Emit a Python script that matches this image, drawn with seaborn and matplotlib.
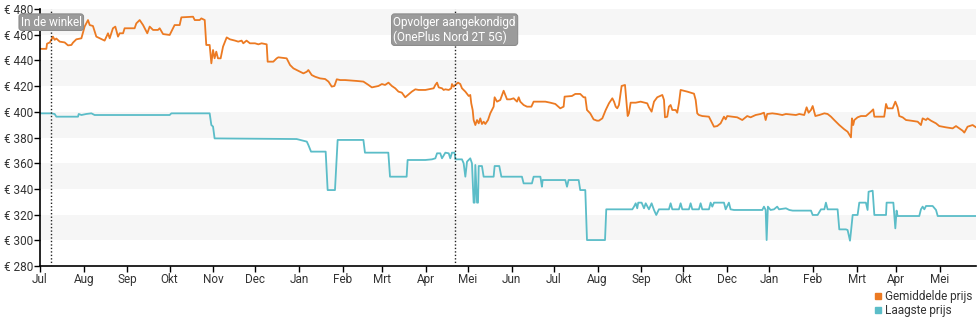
import matplotlib
matplotlib.use('Agg')
import matplotlib.pyplot as plt
import seaborn as sns
import pandas as pd
from matplotlib.lines import Line2D

# ---------------- data ----------------
START = '2021-07-01'   # day 0 of the series

# average price (days since START, euro)
avg_days = [0, 4.5, 5, 7, 9.2, 10.4, 11.6, 14, 17.5, 19.9, 22.3, 23.4, 25.8, 29.4, 31.7, 34.1,
            35.3, 37.6, 40, 42.4, 45.9, 48.3, 49.5, 51.8, 53.5, 55.4, 56.6, 59, 60.1, 67.2, 68.4,
            70.8, 73.2, 76.2, 77.9, 80.3, 83.8, 85, 87.4, 92.1, 93.3, 95.6, 99.2, 100.4, 108.7,
            109.9, 113.4, 114.6, 117, 118.1, 120.5, 121.7, 122.9, 124, 125.2, 126.4, 128.3, 130,
            132.3, 132.6, 134.9, 138.5, 140.8, 143.2, 144.4, 146.7, 149.1, 152.7, 155.1, 157.4,
            161, 161.7, 165.7, 168.1, 169.3, 175.2, 177.6, 180, 182.3, 184.7, 187.1, 189.5, 190.6,
            193, 195.4, 198.9, 202.5, 204.9, 207.2, 209.1, 210.8, 213.2, 216.7, 225, 229.7, 233.3,
            235.7, 240.4, 242.8, 245.1, 247.5, 249.9, 252.3, 254.6, 257, 259.4, 261.3, 264.1,
            266.6, 268.9, 273.7, 279.6, 280.8, 282, 283.2, 285.5, 286.7, 287.9, 290.3, 292.1,
            292.6, 293.8, 295, 296.9, 298.5, 299.7, 302.1, 304.5, 305.6, 306.3, 307.3, 308, 309.2,
            310.4, 311.6, 312.7, 313.9, 315.1, 316.3, 318.2, 319.8, 321, 322.2, 322.9, 324.6,
            326.9, 329.3, 331.7, 334, 336.4, 338.8, 340, 341.1, 343.5, 345.9, 349, 350.6, 358.9,
            362.4, 366, 369.5, 371.9, 372.6, 377.8, 380.2, 383.7, 386.1, 387.3, 388.5, 390.8,
            393.2, 395.6, 397, 399.4, 401.8, 404.1, 406.5, 407.7, 408.9, 410, 411.2, 413.1, 415.5,
            416.4, 417.4, 418.3, 419.5, 423.1, 426.6, 431.3, 432.5, 434.4, 436.1, 438.4, 442,
            443.2, 443.9, 445.5, 446.7, 447.9, 449.1, 451.5, 452.6, 453.8, 455, 459.7, 464.5,
            465.7, 466.8, 468, 470.4, 475.1, 478.7, 481, 483.4, 485.8, 487, 488.1, 491.7, 495.2,
            498.8, 501.2, 502.3, 504.7, 508.3, 511.8, 514.2, 515.4, 516.5, 520.1, 523.6, 527.2,
            529.8, 536.9, 539.3, 542.8, 544.5, 545.9, 547.6, 548.8, 550.7, 553.5, 557.1, 559.4,
            561.8, 564.1, 567.7, 571.2, 573.6, 576, 576.7, 577.6, 578.4, 580.7, 583.1, 586.6,
            590.2, 591.8, 592.6, 599.6, 600.9, 602, 605.6, 607.5, 609.1, 610.3, 612.7, 615.1,
            618.6, 623.4, 625.7, 626.9, 629.3, 630.4, 632.8, 636.4, 638.7, 643.5, 648.2, 650.6,
            652.9, 655.3, 656.5, 658.8, 662.4, 664.8]
avg_price = [449, 449, 453, 454, 458.5, 456, 457, 454.6, 454, 451.7, 452, 453.8, 456.4, 457.2,
             466.3, 471.4, 467.5, 466.8, 458.5, 457.2, 455.4, 461.1, 457.2, 465, 466.3, 458.5,
             461.1, 461.1, 465, 465, 468.8, 471.4, 467.5, 461.1, 466.3, 463.7, 463.7, 465, 460.5,
             459.8, 462.4, 467.5, 467.5, 473.5, 474, 471.4, 471.4, 472.7, 471.4, 452, 452, 437.7,
             448.1, 441.6, 446.8, 441.6, 441.6, 450.7, 457.2, 457.9, 456.4, 455.4, 454.6, 455.4,
             453.3, 455.4, 453.3, 453.3, 452.5, 453.3, 452.5, 439, 439, 441.6, 442.4, 441.6,
             436.4, 433.8, 432.5, 431.2, 429.9, 431.2, 432.5, 428.6, 427.3, 426, 425.5, 423.5,
             419.6, 420.1, 425.3, 424.7, 424.7, 424, 423.5, 420.9, 419, 420.1, 421.6, 420.9,
             422.7, 420.1, 418.3, 415.7, 414.9, 411.3, 413.1, 415.7, 417.5, 417, 417, 418.3,
             420.9, 422.7, 419, 418.3, 417, 417.5, 417, 418.3, 421.6, 419.6, 420.9, 422.7, 421.6,
             418.3, 415.7, 412.3, 413.1, 406.6, 401.4, 393.6, 389.7, 393.6, 391, 394.9, 390.5,
             392.3, 390.5, 393.6, 398.8, 401.4, 404, 411.3, 407.9, 409.2, 416.4, 409.7, 409.7,
             410.5, 407.9, 411.3, 407.9, 405.3, 404, 404, 407.9, 407.9, 407.1, 406.1, 402.7, 404,
             411.8, 412.3, 413.9, 413.9, 411.3, 411.3, 401.4, 398.8, 394.1, 393.1, 393.1, 394.9,
             401.4, 406.6, 410.5, 407.9, 404, 402.7, 405.3, 420.1, 420.9, 409.2, 396.7, 398.8,
             407.1, 407.1, 407.9, 406.6, 403.5, 400.1, 407.9, 411.3, 413.1, 409.2, 395.7, 396.2,
             404, 405.3, 401.4, 401.4, 399.3, 406.6, 417, 415.7, 414.1, 409.2, 398.8, 397.5,
             396.7, 396.2, 388.4, 388.9, 391, 396.2, 394.1, 396.7, 396.2, 395.7, 393.6, 395.7,
             396.7, 395.7, 397.5, 398.3, 399.3, 393.6, 398.3, 398.8, 398.3, 397.5, 398.3, 397.5,
             398.3, 397.5, 403.5, 399.3, 401.4, 404.5, 396.7, 397.5, 398.8, 398.3, 396.2, 393.6,
             389.7, 386.4, 384.5, 380.1, 394.9, 389.7, 393.6, 395.7, 396.7, 396.7, 400.1, 401.9,
             396.2, 396.2, 406.1, 402.7, 402.7, 407.9, 403.5, 396.7, 395.7, 393.6, 393.1, 392.3,
             389.7, 394.9, 393.6, 394.9, 393.1, 391, 388.9, 387.9, 387.1, 388.9, 387.1, 385.3,
             383.8, 388.4, 389.7, 387.9]

# lowest price (days since START, euro)
low_days = [0, 8, 10.4, 11.6, 27, 27.5, 29.4, 32.9, 36.5, 38.8, 92.1, 93.3, 120.5, 121.7, 122.9,
            124, 182.3, 189.5, 190.6, 192.5, 202.9, 204.3, 209.5, 211.4, 229.7, 230.8, 247.4,
            248.6, 260.4, 261.1, 273.7, 278.4, 280.8, 282, 284.3, 285.5, 287.9, 290.3, 291.4,
            292.6, 294.5, 295, 299.7, 300.9, 302.1, 303.3, 304.5, 305.6, 306.8, 308, 308.7, 309.2,
            310.4, 311.1, 311.6, 313.9, 315.1, 322.2, 322.9, 326.2, 327.7, 342.3, 343.5, 349.4,
            350.6, 355.4, 356.5, 357, 373.1, 374.3, 375.4, 382.6, 383.7, 387.3, 388.5, 401.3,
            402.2, 420.7, 421.9, 423.1, 424.2, 424.9, 427.3, 429, 430.2, 432.5, 434.4, 436.1,
            437.7, 439.6, 446.7, 447.9, 449.1, 453.8, 455, 456.2, 460.9, 462.1, 463.3, 468, 469.2,
            470.4, 475.1, 476.3, 477.5, 478.7, 485.8, 487, 489.3, 490.5, 492.9, 513, 514.2,
            515.4, 516.1, 517, 518.9, 521.3, 523.6, 524.9, 529.8, 532.2, 534.6, 547.6, 548.8,
            552.3, 554.7, 557.1, 558.2, 559.4, 566.5, 567.7, 572.4, 573.6, 575.3, 576, 577.2,
            580.7, 581.9, 586.6, 587.8, 588.5, 591.4, 592.6, 600.9, 601.3, 606.1, 606.7, 607.5,
            608.4, 609.1, 624.5, 625.7, 626.9, 628.1, 629.3, 634, 636.4, 637.6, 664.8]
low_price = [398.8, 398.8, 398.3, 396.2, 396.2, 398.3, 397.5, 398.3, 398.8, 397.5, 397.5, 398.8,
             398.8, 389.7, 388.5, 379.3, 378.8, 376.8, 374.2, 369, 369, 339.1, 339.1, 378.1,
             378.1, 368.2, 368.2, 349.5, 349.5, 362.5, 362.5, 363, 363.8, 367.7, 367.7, 363.8,
             368.2, 367.7, 363.8, 368.2, 368.2, 363, 363, 359.9, 349.5, 361.2, 362.5, 363.8,
             359.9, 329.3, 329.3, 358.6, 329.3, 329.3, 357.8, 357.8, 349.5, 349.5, 357.8, 357.8,
             349.5, 349.5, 344.3, 344.3, 349.5, 349.5, 341.7, 346.9, 346.9, 341.7, 346.9, 346.9,
             339.1, 339.1, 300.2, 300.2, 324.1, 324.1, 326.2, 328.8, 324.9, 329.3, 329.3, 324.9,
             328.8, 324.1, 328.8, 323.6, 319.7, 324.1, 324.1, 328.8, 324.1, 324.1, 328.8, 324.1,
             324.1, 328.8, 324.1, 324.1, 328.8, 324.1, 324.1, 329.3, 326.2, 329.3, 329.3, 324.1,
             329.3, 324.1, 323.6, 323.6, 326.2, 323.6, 300.2, 326.2, 323.6, 324.1, 326.2, 324.1,
             324.9, 323.6, 323.1, 323.1, 319.7, 319.7, 324.1, 324.1, 329.3, 324.1, 324.1, 308.5,
             308.5, 308, 299.7, 306.7, 319.7, 319.7, 329.3, 329.3, 323.6, 337.8, 338.6, 319.7,
             319.7, 329.3, 329.3, 320.5, 309.3, 323.1, 318.9, 318.9, 324.1, 326.2, 324.1, 326.7,
             326.7, 323.6, 318.9, 318.9]

series_names = ['Gemiddelde prijs', 'Laagste prijs']
series_colors = ['#ec7a22', '#5bbdc8']

tick_dates = ['2021-07-01', '2021-08-01', '2021-09-01', '2021-10-01', '2021-11-01',
              '2021-12-01', '2022-01-01', '2022-02-01', '2022-03-01', '2022-04-01',
              '2022-05-01', '2022-06-01', '2022-07-01', '2022-08-01', '2022-09-01',
              '2022-10-01', '2022-11-01', '2022-12-01', '2023-01-01', '2023-02-01',
              '2023-03-01', '2023-04-01']
tick_labels = ['Jul', 'Aug', 'Sep', 'Okt', 'Nov', 'Dec', 'Jan', 'Feb', 'Mrt', 'Apr', 'Mei',
               'Jun', 'Jul', 'Aug', 'Sep', 'Okt', 'Dec', 'Jan', 'Feb', 'Mrt', 'Apr', 'Mei']
y_ticks = [280, 300, 320, 340, 360, 380, 400, 420, 440, 460, 480]

event_days = [8, 294.5]
event_labels = ['In de winkel', 'Opvolger aangekondigd\n(OnePlus Nord 2T 5G)']

# ---------------- build ----------------
start = pd.Timestamp(START)
df = pd.concat([
    pd.DataFrame({'date': start + pd.to_timedelta(avg_days, unit='D'),
                  'price': avg_price, 'series': series_names[0]}),
    pd.DataFrame({'date': start + pd.to_timedelta(low_days, unit='D'),
                  'price': low_price, 'series': series_names[1]}),
], ignore_index=True)

sns.set_theme(style='white')
plt.rcParams['font.family'] = ['Roboto', 'DejaVu Sans']

fig = plt.figure(figsize=(9.8, 3.25), dpi=100)
ax = fig.add_axes([40 / 980, 1 - 266 / 325, 936 / 980, 257 / 325])

# alternating bands
for lo in y_ticks[1::2]:
    ax.axhspan(lo, lo + 20, color='#f6f6f6', zorder=0, lw=0)

sns.lineplot(data=df, x='date', y='price', hue='series', hue_order=series_names,
             palette=series_colors, estimator=None, linewidth=1.3, legend=False, ax=ax,
             zorder=2)

end = start + pd.to_timedelta(max(avg_days), unit='D')
ax.set_xlim(start, end)
ax.set_ylim(y_ticks[0], y_ticks[-1])

ax.set_xticks(pd.to_datetime(tick_dates))
ax.set_xticklabels(tick_labels)
ax.set_yticks(y_ticks)
ax.set_yticklabels([f'€ {v}' for v in y_ticks])
ax.set_xlabel('')
ax.set_ylabel('')
ax.tick_params(axis='both', bottom=True, left=True, length=4, width=1, color='black',
               labelsize=8.5, labelcolor='#333333', pad=1, direction='out')

for s in ['top', 'right']:
    ax.spines[s].set_visible(False)
for s in ['left', 'bottom']:
    ax.spines[s].set_color('black')
    ax.spines[s].set_linewidth(1.2)
ax.grid(False)

# events
for d, lab in zip(event_days, event_labels):
    dt = start + pd.to_timedelta(d, unit='D')
    ax.axvline(dt, color='#222222', lw=1, ls=(0, (1, 1.5)), zorder=3)
    ax.text(dt, 474.8, lab, ha='center', va='top', multialignment='left', color='white',
            fontsize=8.5, linespacing=1.15, zorder=5,
            bbox=dict(boxstyle='round,pad=0.15,rounding_size=0.25', fc='#9b9b9b',
                      ec='#8c8c8c', lw=0.8))

# legend
handles = [Line2D([], [], marker='s', ls='', color=c, markersize=5) for c in series_colors]
fig.legend(handles, series_names, loc='upper left', bbox_to_anchor=(872 / 980, 1 - 290 / 325),
           frameon=False, fontsize=8.5, handletextpad=0.1, labelspacing=0.1,
           borderaxespad=0, borderpad=0, handlelength=1, labelcolor='#333333')

fig.savefig('out.png', dpi=100)
